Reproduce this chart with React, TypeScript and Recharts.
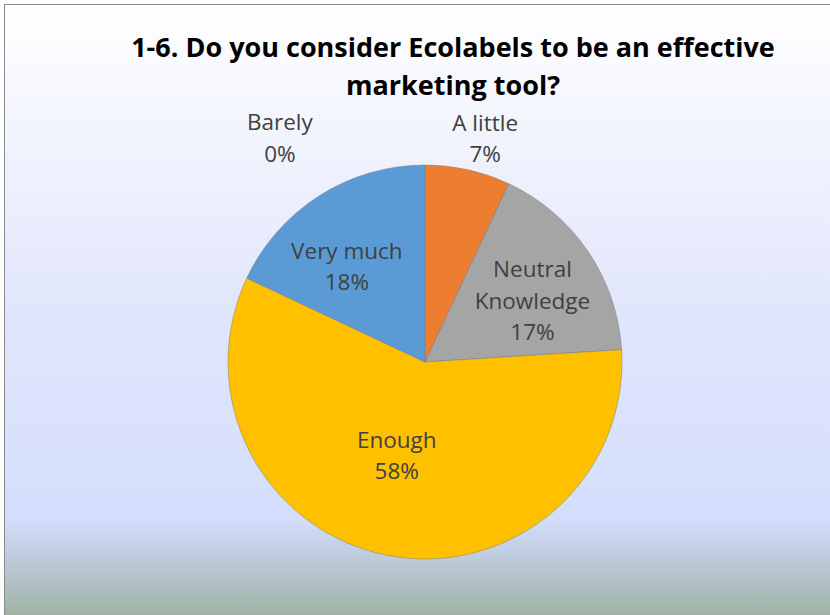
import { PieChart, Pie, Cell } from 'recharts'

const categories = ['Barely', 'A little', 'Neutral Knowledge', 'Enough', 'Very much']
const shares = [0, 7, 17, 58, 18]
const colors = ['#4472C4', '#ED7D31', '#A5A5A5', '#FFC000', '#5B9BD5']
const titleLines = ['1-6. Do you consider Ecolabels to be an effective', 'marketing tool?']

// where each data label sits: radius as a share of the pie radius, angle in degrees
const labelSpots: Record<string, { r: number; a: number }> = {
  'Barely': { r: 1.36, a: 122.8 },
  'A little': { r: 1.18, a: 75 },
  'Neutral Knowledge': { r: 0.63, a: 30 },
  'Enough': { r: 0.49, a: -107 },
  'Very much': { r: 0.63, a: 129 },
}

const data = categories.map((name, i) => ({ name, value: shares[i] }))

const FONT = '"Open Sans", sans-serif'
const RAD = Math.PI / 180

function renderLabel(props: any) {
  const { cx, cy, outerRadius, index } = props
  const name = categories[index]
  const spot = labelSpots[name]
  const x = cx + outerRadius * spot.r * Math.cos(spot.a * RAD)
  const y = cy - outerRadius * spot.r * Math.sin(spot.a * RAD)
  const lines = name === 'Neutral Knowledge' ? ['Neutral', 'Knowledge'] : [name]
  lines.push(`${shares[index]}%`)
  const lh = 31.5
  const top = y - ((lines.length - 1) * lh) / 2
  return (
    <text
      key={`lbl-${index}`}
      x={x}
      y={top}
      textAnchor="middle"
      dominantBaseline="central"
      fill="#404040"
      fontSize={22.5}
      fontFamily={FONT}
    >
      {lines.map((t, k) => (
        <tspan key={k} x={x} y={top + k * lh}>{t}</tspan>
      ))}
    </text>
  )
}

export default function App() {
  return (
    <div style={{ position: 'absolute', left: 0, top: 0, width: 830, height: 615, overflow: 'hidden' }}>
      <div
        style={{
          position: 'absolute',
          left: 4,
          top: 4,
          width: 840,
          height: 625,
          border: '1px solid #8a8a8a',
          background:
            'linear-gradient(to bottom, #ffffff 0%, #e1e6fb 48%, #d4defc 82%, #c3cfe4 87%, #aebfc0 93%, #97ac95 100%)',
        }}
      />
      {titleLines.map((t, i) => (
        <div
          key={i}
          style={{
            position: 'absolute',
            left: 0,
            width: 906,
            top: 29 + i * 38,
            textAlign: 'center',
            fontFamily: FONT,
            fontWeight: 700,
            fontSize: 27,
            lineHeight: '36px',
            color: '#000',
          }}
        >
          {t}
        </div>
      ))}
      <PieChart width={830} height={615} margin={{ top: 0, right: 0, bottom: 0, left: 0 }} style={{ position: 'absolute', left: 0, top: 0 }}>
        <Pie
          data={data}
          dataKey="value"
          nameKey="name"
          cx={425}
          cy={362}
          outerRadius={197}
          startAngle={90}
          endAngle={-270}
          stroke="rgba(120,120,120,0.45)"
          strokeWidth={1}
          label={renderLabel}
          labelLine={false}
          isAnimationActive={false}
        >
          {data.map((d, i) => (
            <Cell key={d.name} fill={colors[i]} />
          ))}
        </Pie>
      </PieChart>
    </div>
  )
}
